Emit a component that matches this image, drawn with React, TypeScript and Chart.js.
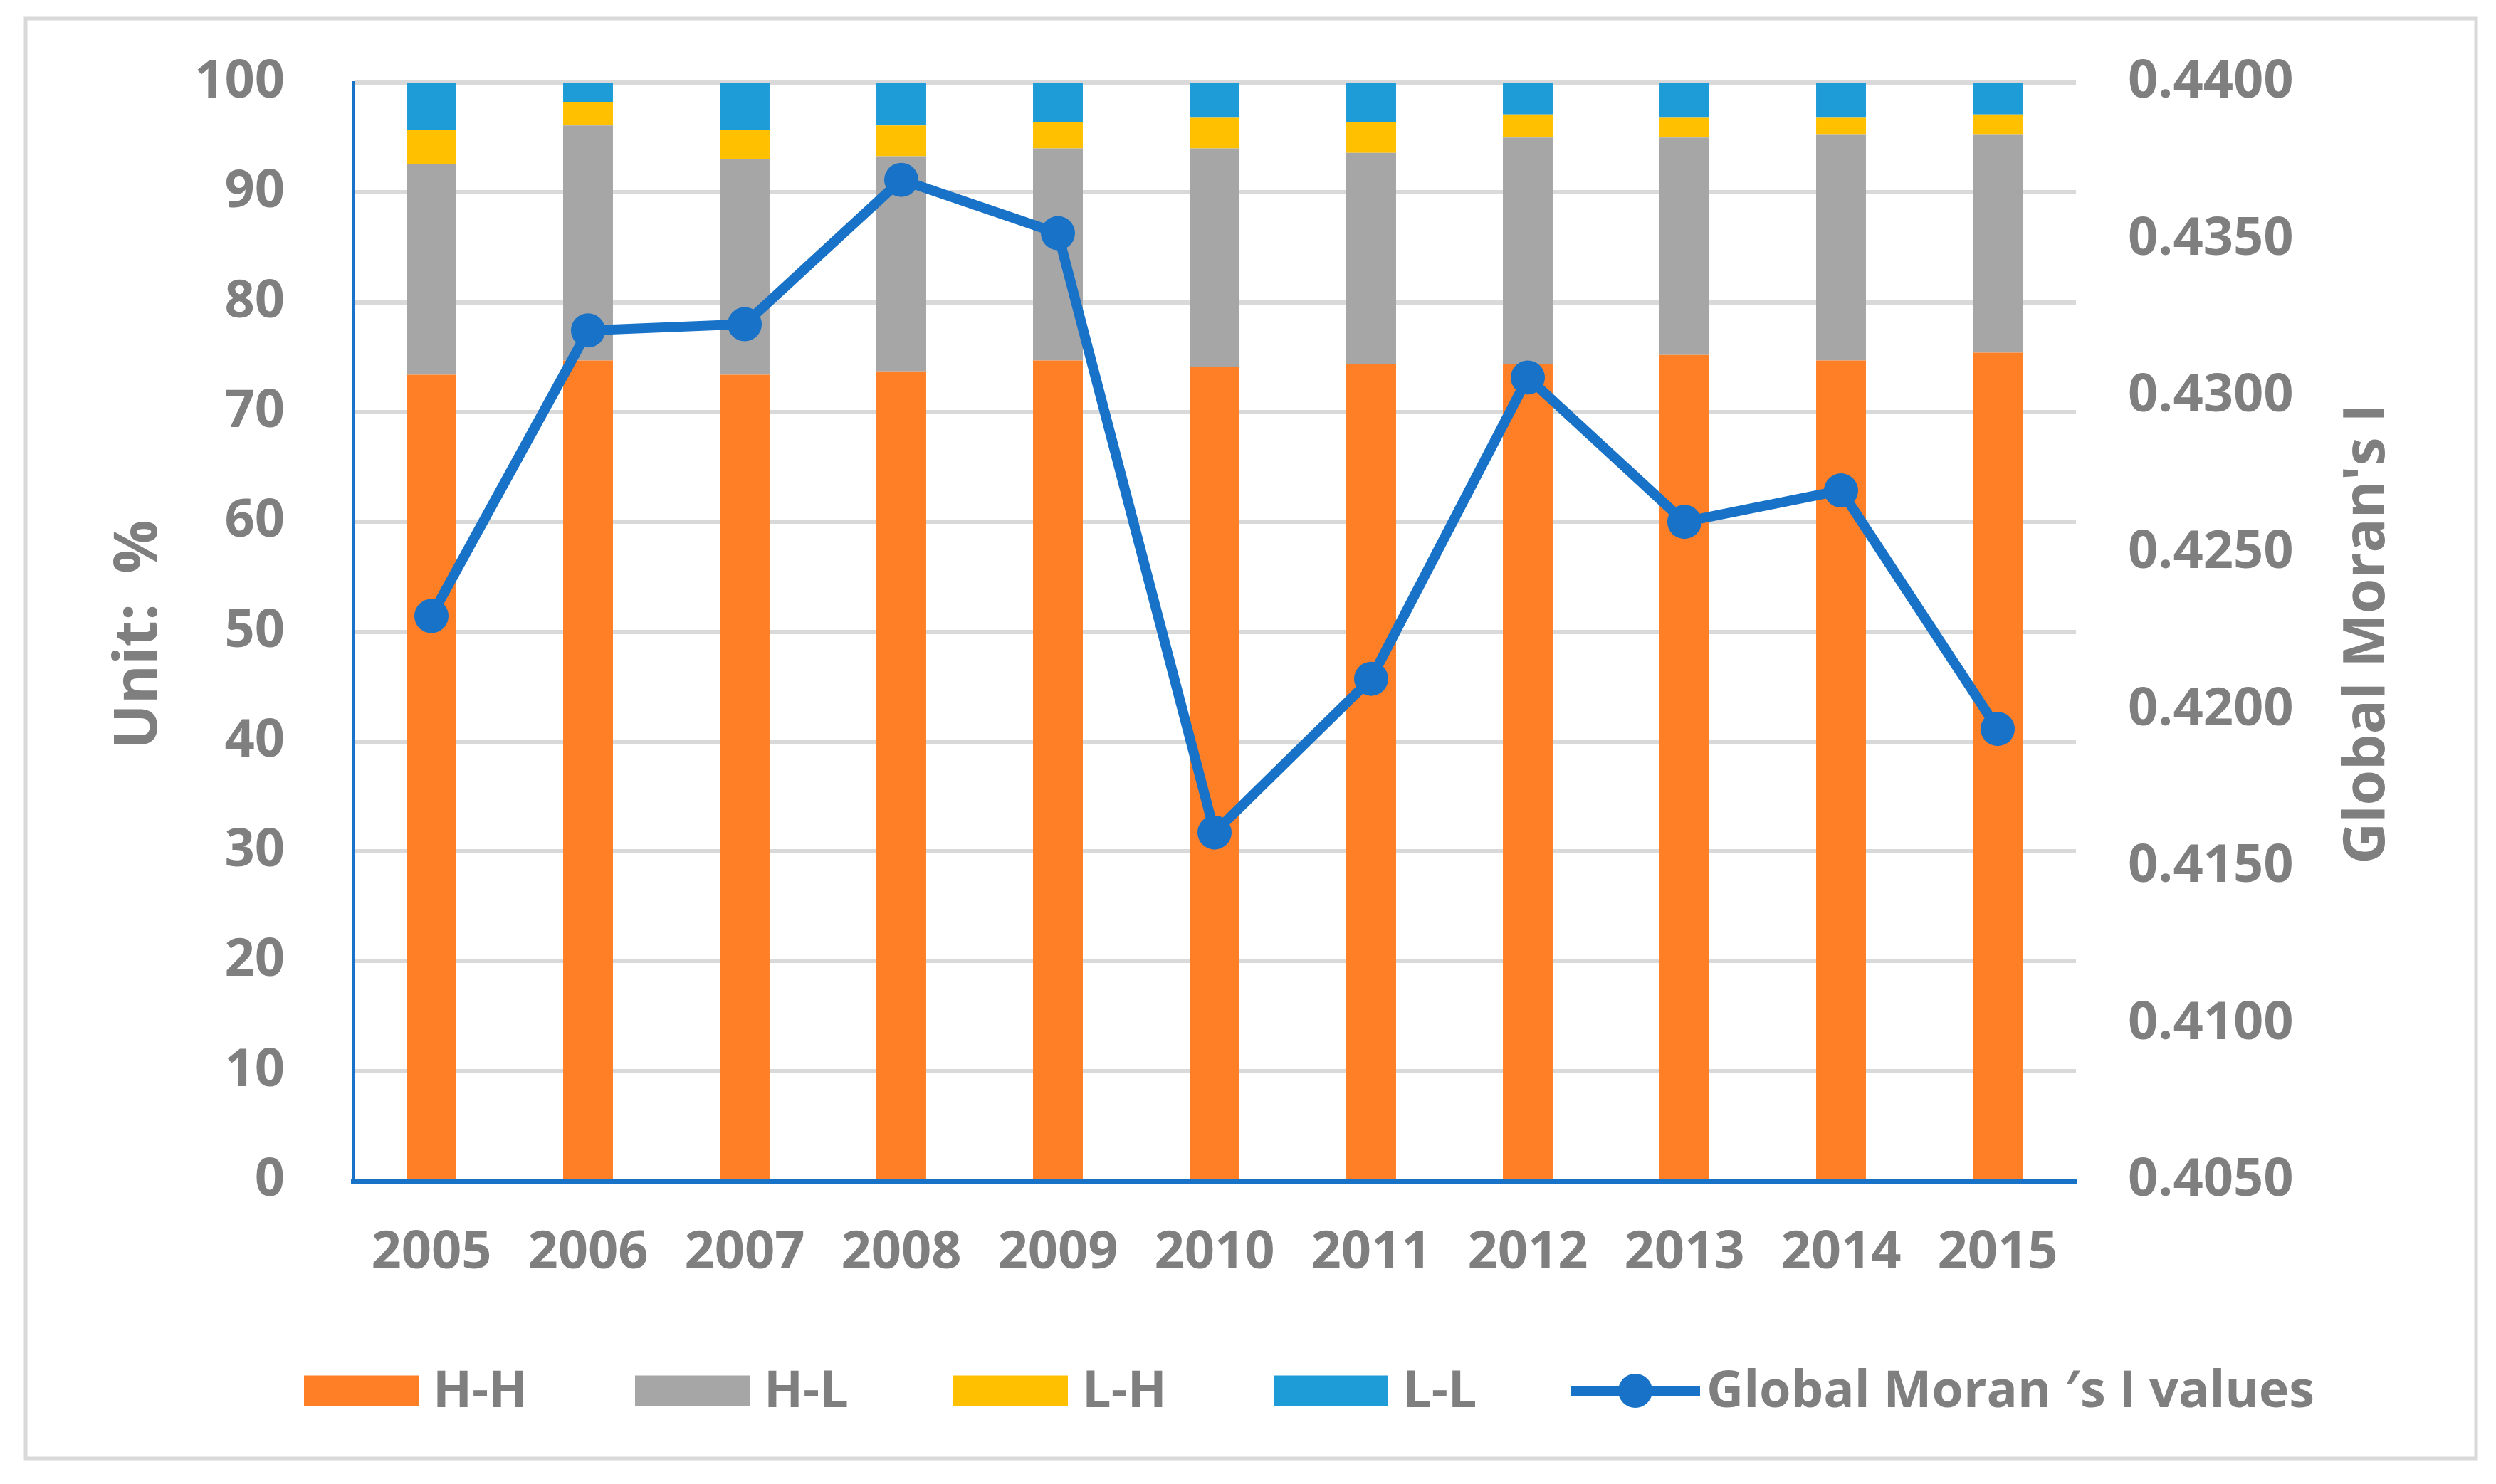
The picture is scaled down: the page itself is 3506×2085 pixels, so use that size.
import React, { useEffect, useRef } from "react";
import { Chart, registerables } from "chart.js";

Chart.register(...registerables);

const years = ["2005", "2006", "2007", "2008", "2009", "2010", "2011", "2012", "2013", "2014", "2015"];
const hhShare = [73.4, 74.7, 73.4, 73.7, 74.7, 74.1, 74.4, 74.4, 75.2, 74.7, 75.4];
const hlShare = [19.2, 21.4, 19.6, 19.6, 19.3, 19.9, 19.2, 20.6, 19.8, 20.6, 19.9];
const lhShare = [3.1, 2.1, 2.7, 2.8, 2.4, 2.8, 2.8, 2.1, 1.8, 1.5, 1.8];
const llShare = [4.3, 1.8, 4.3, 3.9, 3.6, 3.2, 3.6, 2.9, 3.2, 3.2, 2.9];
const moranI = [0.423, 0.4321, 0.4323, 0.4369, 0.4352, 0.4161, 0.421, 0.4306, 0.426, 0.427, 0.4194];

const leftAxisRange = [0, 100, 10];
const rightAxisRange = [0.405, 0.44, 0.005];

const seriesLabels = ["H-H", "H-L", "L-H", "L-L", "Global Moran \u2032s I values"];
const leftTitle = "Unit:\u2002%";
const rightTitle = "Global Moran's I";

const W = 3506;
const H = 2085;
const FONT = '"Open Sans", "Noto Sans", sans-serif';
const TEXT = "#7f7f7f";
const LINE_BLUE = "#1772C8";

const decorPlugin = {
  id: "decor",
  beforeDraw(chart: any) {
    const ctx = chart.ctx;
    ctx.save();
    ctx.fillStyle = "#ffffff";
    ctx.fillRect(0, 0, chart.width, chart.height);
    ctx.strokeStyle = "#d9d9d9";
    ctx.lineWidth = 5;
    ctx.strokeRect(36, 26, 3442, 2023);
    ctx.restore();
  },
  afterDraw(chart: any) {
    const ctx = chart.ctx;
    const area = chart.chartArea;
    const cy = (area.top + area.bottom) / 2;
    ctx.save();
    ctx.fillStyle = TEXT;
    ctx.textAlign = "center";
    ctx.textBaseline = "middle";
    // left title
    ctx.save();
    ctx.translate(196, cy + 4);
    ctx.rotate(-Math.PI / 2);
    ctx.font = `bold 84px ${FONT}`;
    ctx.fillText(leftTitle, 0, 0);
    ctx.restore();
    // right title
    ctx.save();
    ctx.translate(3326, cy + 3);
    ctx.rotate(-Math.PI / 2);
    ctx.font = `bold 80px ${FONT}`;
    ctx.fillText(rightTitle, 0, 0);
    ctx.restore();

    // legend
    const ly = 1954;
    const boxX = [427, 892, 1339, 1789];
    const ds = chart.data.datasets;
    ctx.font = `bold 72px ${FONT}`;
    ctx.textAlign = "left";
    for (let i = 0; i < 4; i++) {
      ctx.fillStyle = ds[i].backgroundColor;
      ctx.fillRect(boxX[i], ly - 21.5, 161, 43);
      ctx.fillStyle = TEXT;
      ctx.fillText(ds[i].label, boxX[i] + 181, ly + 2);
    }
    const lx = 2207;
    ctx.strokeStyle = ds[4].borderColor;
    ctx.lineWidth = 14;
    ctx.beginPath();
    ctx.moveTo(lx, ly);
    ctx.lineTo(lx + 181, ly);
    ctx.stroke();
    ctx.fillStyle = ds[4].borderColor;
    ctx.beginPath();
    ctx.arc(lx + 90, ly, 24, 0, Math.PI * 2);
    ctx.fill();
    ctx.fillStyle = TEXT;
    ctx.fillText(ds[4].label, 2397, ly + 2);
    ctx.restore();
  },
};

function fixVertical(width: number) {
  return (scale: any) => {
    scale.width = width;
    scale.paddingTop = 0;
    scale.paddingBottom = 0;
  };
}

export default function App() {
  const ref = useRef<HTMLCanvasElement | null>(null);

  useEffect(() => {
    if (!ref.current) return;
    const barCommon = {
      type: "bar" as const,
      yAxisID: "y",
      order: 1,
      barPercentage: 0.318,
      categoryPercentage: 1,
      borderWidth: 0,
    };
    const chart = new Chart(ref.current, {
      type: "bar",
      data: {
        labels: years,
        datasets: [
          { ...barCommon, label: seriesLabels[0], data: hhShare, backgroundColor: "#FF7F27" },
          { ...barCommon, label: seriesLabels[1], data: hlShare, backgroundColor: "#A6A6A6" },
          { ...barCommon, label: seriesLabels[2], data: lhShare, backgroundColor: "#FFC000" },
          { ...barCommon, label: seriesLabels[3], data: llShare, backgroundColor: "#1E9CD8" },
          {
            type: "line",
            label: seriesLabels[4],
            data: moranI,
            yAxisID: "y1",
            order: 0,
            borderColor: LINE_BLUE,
            backgroundColor: LINE_BLUE,
            borderWidth: 14,
            pointRadius: 24,
            pointBorderWidth: 0,
            pointBackgroundColor: LINE_BLUE,
            tension: 0,
          } as any,
        ],
      },
      options: {
        animation: false,
        responsive: false,
        devicePixelRatio: 1,
        layout: { padding: { top: 116, left: 0, right: 0, bottom: 0 } },
        plugins: {
          legend: { display: false },
          title: { display: false },
          tooltip: { enabled: false },
        },
        scales: {
          x: {
            stacked: true,
            grid: { display: false, drawTicks: false },
            border: { display: true, color: LINE_BLUE, width: 7 },
            ticks: {
              color: TEXT,
              font: { family: FONT, size: 74, weight: "bold" },
              padding: 58,
              maxRotation: 0,
              autoSkip: false,
            },
            afterFit(scale: any) {
              scale.height = 426;
            },
          },
          y: {
            stacked: true,
            position: "left",
            min: leftAxisRange[0],
            max: leftAxisRange[1],
            grid: { color: "#d9d9d9", lineWidth: 6, drawTicks: false },
            border: { display: true, color: LINE_BLUE, width: 5 },
            ticks: {
              stepSize: leftAxisRange[2],
              color: TEXT,
              font: { family: FONT, size: 74, weight: "bold" },
              padding: 96,
            },
            afterFit: fixVertical(496),
          },
          y1: {
            position: "right",
            min: rightAxisRange[0],
            max: rightAxisRange[1],
            grid: { display: false, drawTicks: false },
            border: { display: false },
            ticks: {
              stepSize: rightAxisRange[2],
              color: TEXT,
              font: { family: FONT, size: 74, weight: "bold" },
              padding: 73,
              callback: (v: any) => Number(v).toFixed(4),
            },
            afterFit: fixVertical(590),
          },
        },
      } as any,
      plugins: [decorPlugin],
    });
    return () => chart.destroy();
  }, []);

  return (
    <div style={{ position: "absolute", left: 0, top: 0, width: W, height: H, background: "#fff" }}>
      <canvas ref={ref} width={W} height={H} style={{ width: W, height: H, display: "block" }} />
    </div>
  );
}
